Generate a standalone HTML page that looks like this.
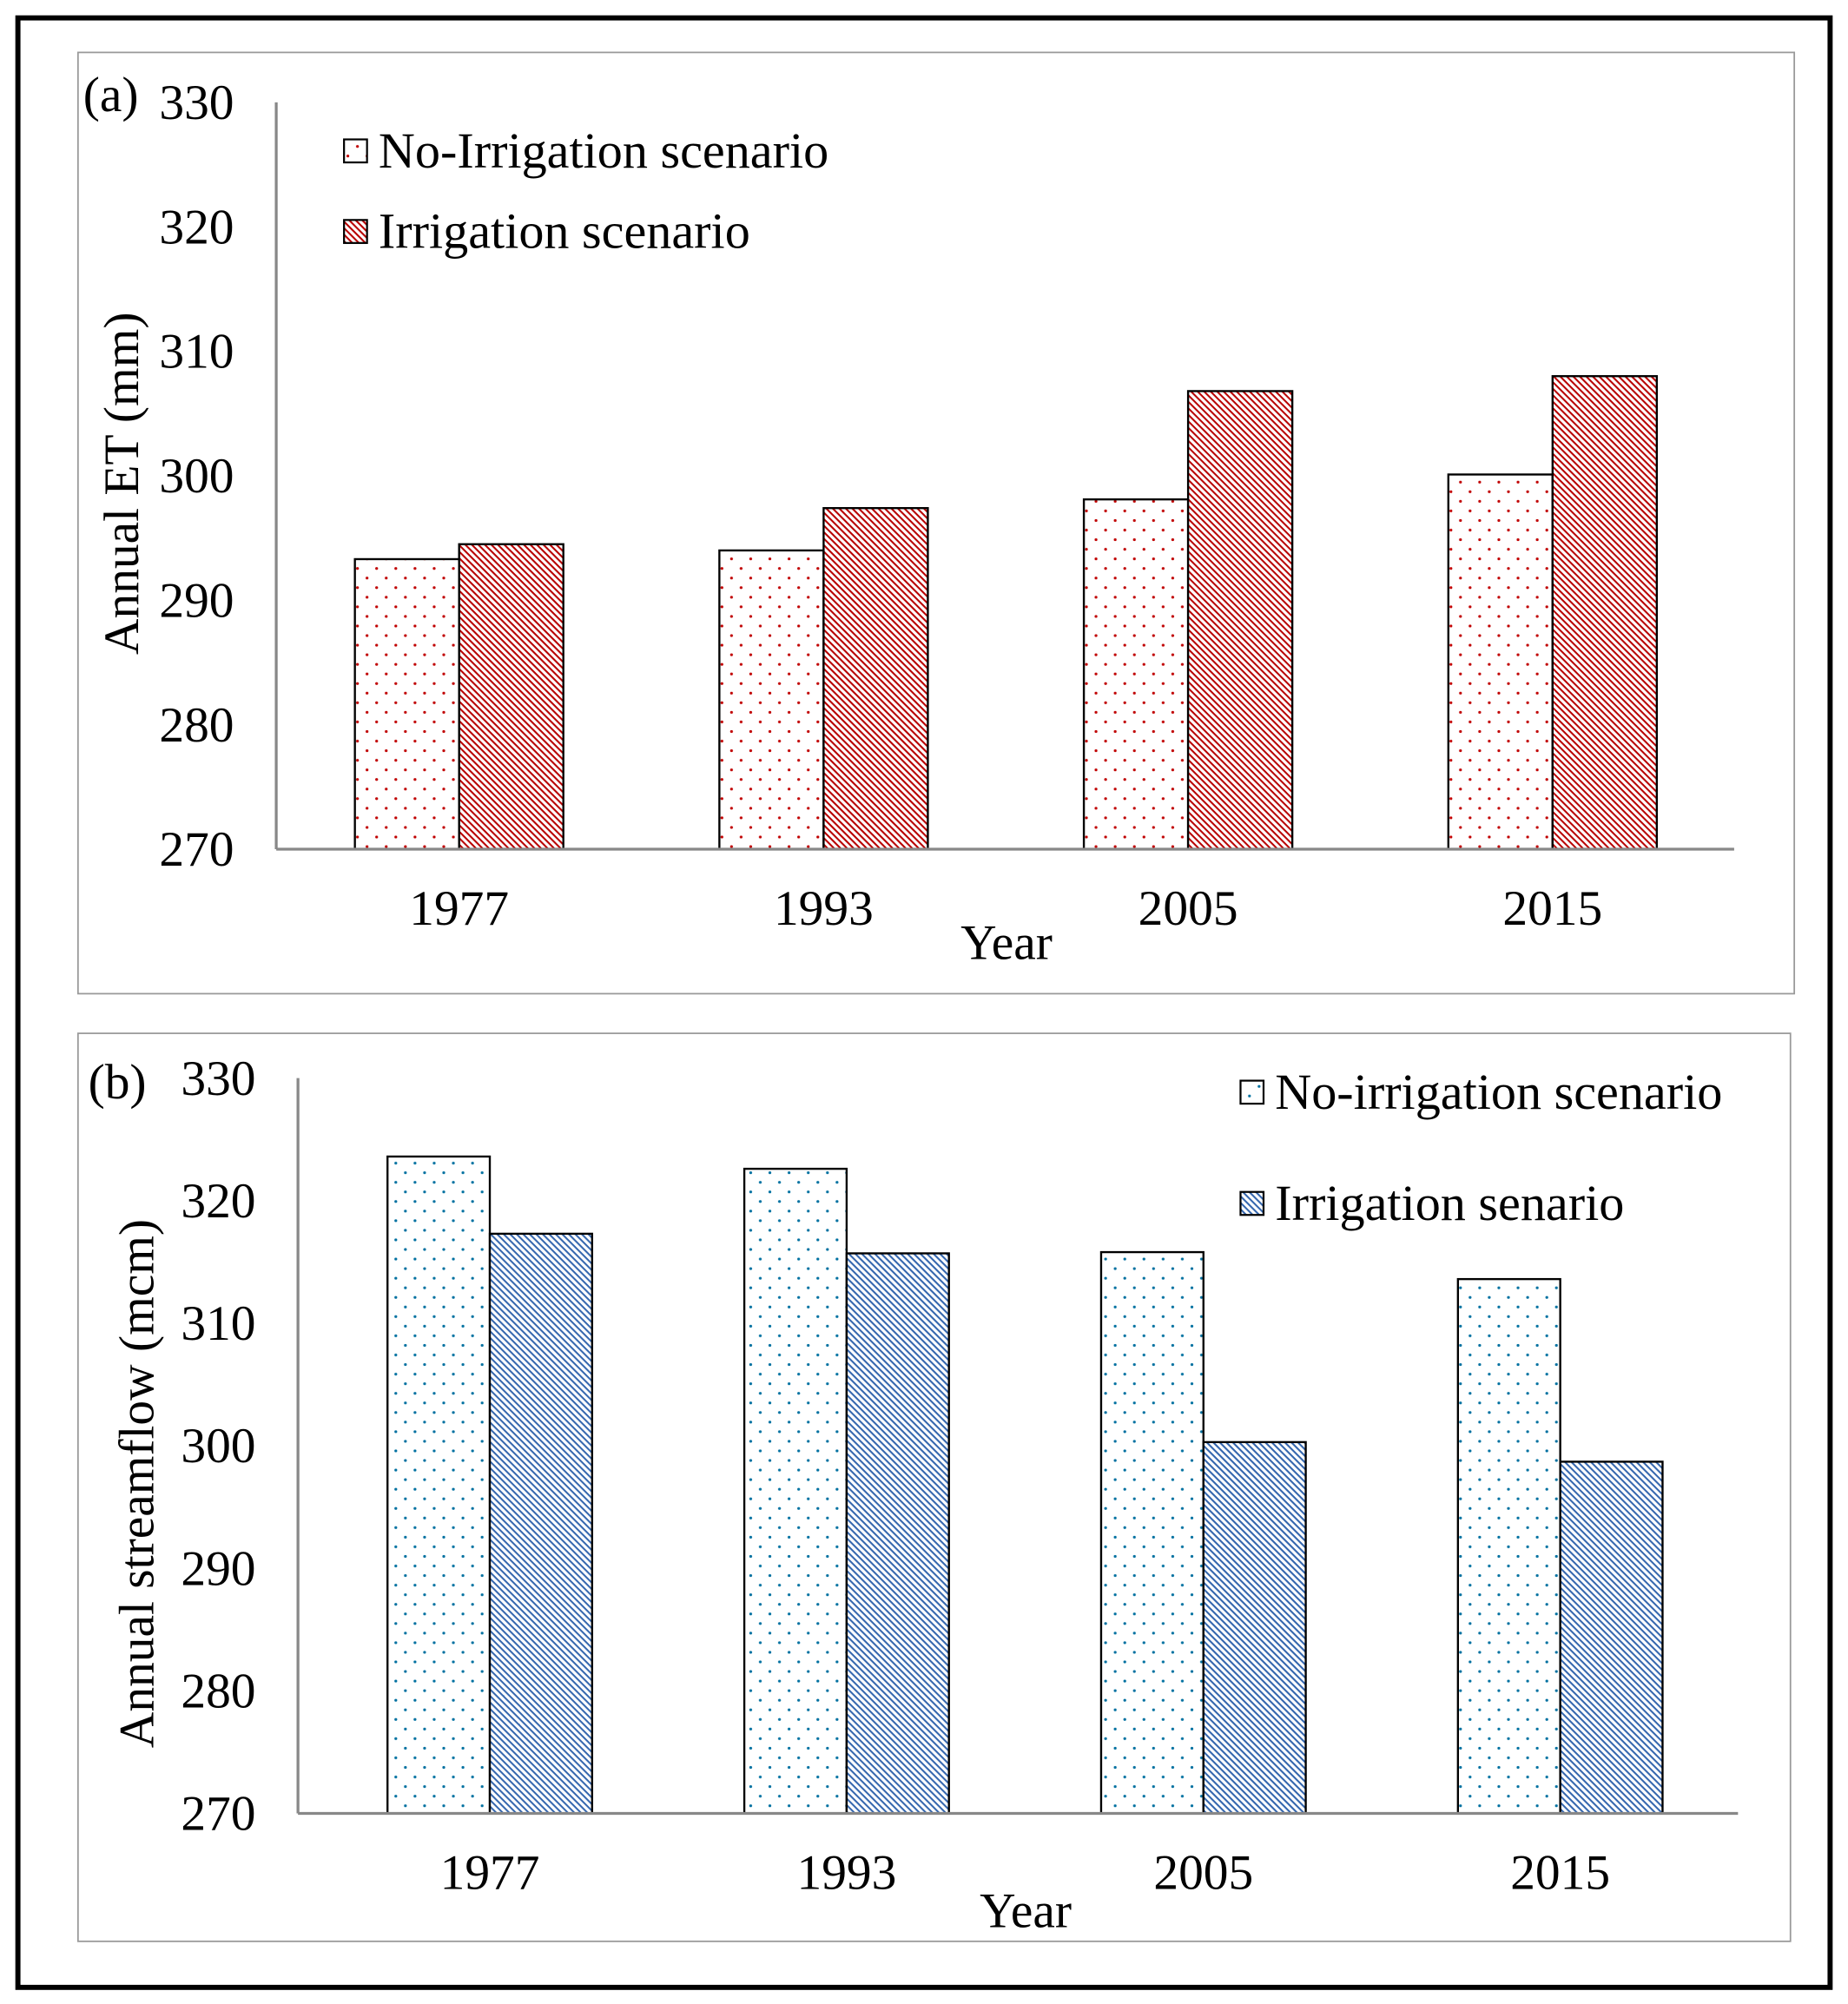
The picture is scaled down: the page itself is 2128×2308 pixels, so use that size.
<!DOCTYPE html>
<html><head><meta charset="utf-8"><style>
html,body{margin:0;padding:0;background:#fff}
svg{display:block}
text{font-family:"Liberation Serif",serif;fill:#000}
</style></head><body>
<svg id="fig" width="2128" height="2308" viewBox="0 0 1445 1567" preserveAspectRatio="none" xmlns="http://www.w3.org/2000/svg">
<defs>
<pattern id="dotRed" patternUnits="userSpaceOnUse" width="15" height="15"><circle cx="2" cy="2" r="1.1" fill="#c00000"/><circle cx="9.5" cy="9.5" r="1.1" fill="#c00000"/></pattern>
<pattern id="hatchRed" patternUnits="userSpaceOnUse" width="3.6" height="3.6" patternTransform="rotate(45)"><rect width="3.6" height="3.6" fill="#fff"/><rect x="0" y="0" width="3.6" height="1.4" fill="#b80000"/></pattern>
<pattern id="dotBlue" patternUnits="userSpaceOnUse" width="15" height="15"><circle cx="2" cy="2" r="1.1" fill="#0070a0"/><circle cx="9.5" cy="9.5" r="1.1" fill="#0070a0"/></pattern>
<pattern id="hatchBlue" patternUnits="userSpaceOnUse" width="3.6" height="3.6" patternTransform="rotate(45)"><rect width="3.6" height="3.6" fill="#fff"/><rect x="0" y="0" width="3.6" height="1.4" fill="#3466ae"/></pattern>
</defs>
<rect x="14" y="14" width="1417" height="1540" fill="none" stroke="#000" stroke-width="4"/>
<rect x="61" y="41" width="1342" height="736" fill="none" stroke="#999" stroke-width="1.2"/>
<rect x="61" y="808" width="1339" height="710" fill="none" stroke="#999" stroke-width="1.2"/>
<g id="pa"></g><g id="pb"></g>
</svg>
<script>
const categories = ["1977","1993","2005","2015"];
const etNoIrr = [293.3, 294.0, 298.1, 300.1];
const etIrr = [294.5, 297.4, 306.8, 308.0];
const sfNoIrr = [323.6, 322.6, 315.8, 313.6];
const sfIrr = [317.3, 315.7, 300.3, 298.7];
const yTicks = [270, 280, 290, 300, 310, 320, 330];

const NS = "http://www.w3.org/2000/svg";
function mk(parent, tag, attrs, txt){
  const e = document.createElementNS(NS, tag);
  for (const k in attrs) e.setAttribute(k, attrs[k]);
  if (txt !== undefined) e.textContent = txt;
  parent.appendChild(e); return e;
}
function panel(g, cfg){
  const x0=cfg.x0, x1=cfg.x1, yTop=cfg.yTop, yBot=cfg.yBot;
  const yS = v => yBot - (v-270)/(330-270)*(yBot-yTop);
  const cw = cfg.cw;
  const bw = cfg.bw;
  const ya = mk(g,"line",{x1:x0,y1:yTop,x2:x0,y2:yBot,stroke:"#888","stroke-width":2.2});
  
  
  yTicks.forEach(t=>{
    const tl = mk(g,"text",{x:x0-33,y:yS(t)+13,"text-anchor":"end","font-size":39},String(t));
    
    
  });
  categories.forEach((c,i)=>{
    const cx = cfg.c0 + cw*i;
    const v1 = cfg.s1[i], v2 = cfg.s2[i];
    const b1 = mk(g,"rect",{x:cx-bw,y:yS(v1),width:bw,height:yBot-yS(v1),fill:"url(#"+cfg.f1+")",stroke:"#000","stroke-width":1.6});
    
    
    const b2 = mk(g,"rect",{x:cx,y:yS(v2),width:bw,height:yBot-yS(v2),fill:"url(#"+cfg.f2+")",stroke:"#000","stroke-width":1.6});
    
    
    const xl = mk(g,"text",{x:cx,y:yBot+59,"text-anchor":"middle","font-size":39},c);
    
    
  });
  const xa = mk(g,"line",{x1:x0,y1:yBot,x2:x1,y2:yBot,stroke:"#888","stroke-width":2.2});
  
  
  const xt = mk(g,"text",{x:cfg.yearX,y:cfg.yearY,"text-anchor":"middle","font-size":39},"Year");
  
  
  const yt = mk(g,"text",{x:0,y:0,"text-anchor":"middle","font-size":39,transform:"translate("+cfg.ytX+","+cfg.ytY+") rotate(-90)"},cfg.ytitle);
  
  
  const pl = mk(g,"text",{x:cfg.lblX,y:cfg.lblY,"font-size":39},cfg.lbl);
  
  
  [[cfg.f1,cfg.l1,cfg.legY1],[cfg.f2,cfg.l2,cfg.legY2]].forEach((L,k)=>{
    const r = mk(g,"rect",{x:cfg.legX,y:L[2]-9,width:18,height:18,fill:"url(#"+L[0]+")",stroke:"#000","stroke-width":1.5});
    
    
    const t = mk(g,"text",{x:cfg.legX+27,y:L[2]+13,"font-size":39.5},L[1]);
    
    
  });
}
panel(document.getElementById("pa"),{p:"a",x0:216,x1:1356,yTop:80,yBot:664,c0:359,cw:285,bw:81.5,s1:etNoIrr,s2:etIrr,f1:"dotRed",f2:"hatchRed",
  yearX:787,yearY:750,ytitle:"Annual ET (mm)",ytX:108,ytY:378,lbl:"(a)",lblX:65,lblY:87,
  legX:269,legY1:118,legY2:181,l1:"No-Irrigation scenario",l2:"Irrigation scenario"});
panel(document.getElementById("pb"),{p:"b",x0:233,x1:1359,yTop:843,yBot:1418,c0:383,cw:279,bw:80,s1:sfNoIrr,s2:sfIrr,f1:"dotBlue",f2:"hatchBlue",
  yearX:802,yearY:1507,ytitle:"Annual streamflow (mcm)",ytX:120,ytY:1160,lbl:"(b)",lblX:69,lblY:859,
  legX:970,legY1:854,legY2:941,l1:"No-irrigation scenario",l2:"Irrigation senario"});
</script>
</body></html>
